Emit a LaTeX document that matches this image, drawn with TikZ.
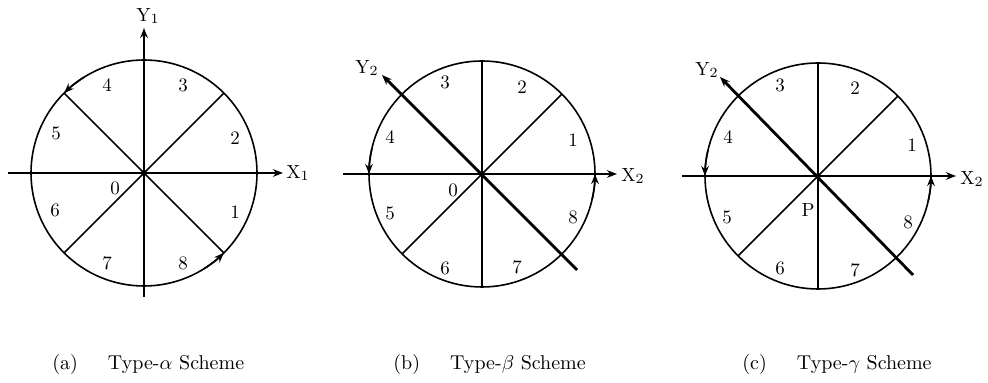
\documentclass[tikz,border=0pt]{standalone}
\usetikzlibrary{arrows.meta}
\begin{document}
\begin{tikzpicture}[x=0.5pt,y=0.5pt,
  circ/.style={line width=0.8pt},
  thinln/.style={line width=0.8pt},
  axisln/.style={line width=1.4pt,-{Stealth[length=5pt,width=3.8pt]}},
  arcarrow/.style={line width=0.8pt,-{Stealth[length=5pt,width=3.8pt]}},
  lab/.style={font=\fontsize{9.5}{11}\selectfont,inner sep=0pt},
  captext/.style={font=\fontsize{10}{12}\selectfont,inner sep=0pt,anchor=west}]
\useasboundingbox (0,0) rectangle (988,383);

% ---------- (a) ----------
\begin{scope}[shift={(144,210)}]
  \coordinate (a0) at (0,0);
  \draw[circ] (a0) circle[radius=56.5pt];
  \foreach \ang/\nm in {45/aNE,135/aNW,225/aSW,315/aSE}{\coordinate (\nm) at (\ang:113);}
  \draw[thinln] (a0) -- (aNE);
  \draw[thinln] (a0) -- (aNW);
  \draw[thinln] (a0) -- (aSW);
  \draw[thinln] (a0) -- (aSE);
  \coordinate (aXl) at (-136,0); \coordinate (aXr) at (139,0);
  \coordinate (aYb) at (0,-124); \coordinate (aYt) at (0,145);
  \draw[axisln] (aXl) -- (aXr);
  \draw[axisln] (aYb) -- (aYt);
  \draw[arcarrow] (122:113) arc[start angle=122,end angle=135,radius=56.5pt];
  \draw[arcarrow] (302:113) arc[start angle=302,end angle=315,radius=56.5pt];
  \fill (a0) circle[radius=1.4pt];
  \node[lab,anchor=west] (aX) at (142,0) {X$_1$};
  \node[lab] (aY) at (4,157) {Y$_1$};
  \node[lab] (a3) at (39,88) {3};
  \node[lab] (a4) at (-37,88) {4};
  \node[lab] (a2) at (91,35) {2};
  \node[lab] (a5) at (-88,40) {5};
  \node[lab] (a1) at (91,-39) {1};
  \node[lab] (a6) at (-89,-37) {6};
  \node[lab] (a7) at (-37,-90) {7};
  \node[lab] (a8) at (39,-90) {8};
  \node[lab] (a0l) at (-29,-15) {0};
\end{scope}

% ---------- (b) ----------
\begin{scope}[shift={(482,209)}]
  \coordinate (b0) at (0,0);
  \draw[circ] (b0) circle[radius=56.5pt];
  \foreach \ang/\nm in {45/bNE,225/bSW,90/bN,270/bS}{\coordinate (\nm) at (\ang:113);}
  \draw[thinln] (b0) -- (bNE);
  \draw[thinln] (b0) -- (bSW);
  \draw[thinln] (bN) -- (bS);
  \coordinate (bXl) at (-139,0); \coordinate (bXr) at (135,0);
  \coordinate (bYb) at (95,-96); \coordinate (bYt) at (-100,99);
  \draw[axisln] (bXl) -- (bXr);
  \draw[axisln] (bYb) -- (bYt);
  \draw[arcarrow] (167:113) arc[start angle=167,end angle=180,radius=56.5pt];
  \draw[arcarrow] (-13:113) arc[start angle=-13,end angle=0,radius=56.5pt];
  \fill (b0) circle[radius=1.4pt];
  \node[lab,anchor=west] (bX) at (139,-2) {X$_2$};
  \node[lab] (bY) at (-115,106) {Y$_2$};
  \node[lab] (b3) at (-37,92) {3};
  \node[lab] (b2) at (40,87) {2};
  \node[lab] (b1) at (91,34) {1};
  \node[lab] (b4) at (-92,37) {4};
  \node[lab] (b0l) at (-29,-16) {0};
  \node[lab] (b5) at (-92,-39) {5};
  \node[lab] (b8) at (91,-43) {8};
  \node[lab] (b6) at (-37,-94) {6};
  \node[lab] (b7) at (35,-93) {7};
\end{scope}

% ---------- (c) ----------
\begin{scope}[shift={(818,207)}]
  \coordinate (c0) at (0,0);
  \draw[circ] (c0) circle[radius=56.5pt];
  \foreach \ang/\nm in {45/cNE,225/cSW,90/cN,270/cS}{\coordinate (\nm) at (\ang:113);}
  \draw[thinln] (c0) -- (cNE);
  \draw[thinln] (c0) -- (cSW);
  \draw[thinln] (cN) -- (cS);
  \coordinate (cXl) at (-136,0); \coordinate (cXr) at (138,0);
  \coordinate (cYb) at (95,-99); \coordinate (cYt) at (-98,99);
  \draw[axisln] (cXl) -- (cXr);
  \draw[axisln] (cYb) -- (cYt);
  \draw[arcarrow] (167:113) arc[start angle=167,end angle=180,radius=56.5pt];
  \draw[arcarrow] (-13:113) arc[start angle=-13,end angle=0,radius=56.5pt];
  \fill (c0) circle[radius=1.4pt];
  \node[lab,anchor=west] (cX) at (142,-3) {X$_2$};
  \node[lab] (cY) at (-111,106) {Y$_2$};
  \node[lab] (c3) at (-38,91) {3};
  \node[lab] (c2) at (37,88) {2};
  \node[lab] (c1) at (94,31) {1};
  \node[lab] (c4) at (-90,39) {4};
  \node[lab] (c5) at (-91,-41) {5};
  \node[lab] (cP) at (-10,-34) {P};
  \node[lab] (c8) at (90,-46) {8};
  \node[lab] (c6) at (-38,-92) {6};
  \node[lab] (c7) at (37,-94) {7};
\end{scope}

% ---------- captions ----------
\node[captext] (capa) at (52,18) {(a)\quad\enspace Type-$\alpha$ Scheme};
\node[captext] (capb) at (393,18) {(b)\quad\enspace Type-$\beta$ Scheme};
\node[captext] (capc) at (742,18) {(c)\quad\enspace Type-$\gamma$ Scheme};
\end{tikzpicture}
\end{document}
